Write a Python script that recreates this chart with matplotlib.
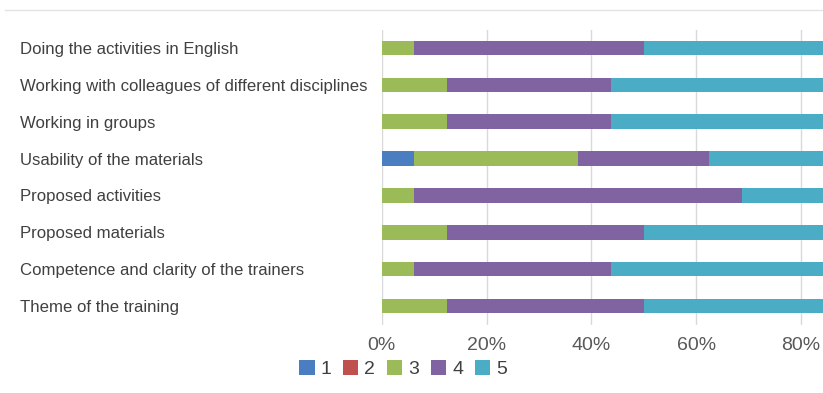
import matplotlib
matplotlib.use("Agg")
import matplotlib.pyplot as plt
from matplotlib.lines import Line2D
from matplotlib.patches import Patch

plt.rcParams["font.family"] = ["Liberation Sans", "DejaVu Sans"]

categories = [
    "Doing the activities in English",
    "Working with colleagues of different disciplines",
    "Working in groups",
    "Usability of the materials",
    "Proposed activities",
    "Proposed materials",
    "Competence and clarity of the trainers",
    "Theme of the training",
]
series_names = ["1", "2", "3", "4", "5"]
s1 = [0, 0, 0, 6.25, 0, 0, 0, 0]
s2 = [0, 0, 0, 0, 0, 0, 0, 0]
s3 = [6.25, 12.5, 12.5, 31.25, 6.25, 12.5, 6.25, 12.5]
s4 = [43.75, 31.25, 31.25, 25.0, 62.5, 37.5, 37.5, 37.5]
s5 = [50.0, 56.25, 56.25, 37.5, 31.25, 50.0, 56.25, 50.0]
tick_vals = [0, 20, 40, 60, 80, 100]
tick_labels = ["0%", "20%", "40%", "60%", "80%", "100%"]

colors = ["#4A7EC0", "#C0504D", "#9BBB59", "#8064A2", "#4BACC6"]

W, H = 823, 393
fig = plt.figure(figsize=(W / 100, H / 100), dpi=100)
fig.patch.set_facecolor("white")

left_px, right_px = 381.7, 381.7 + 524.0
top_px, bot_px = 29.5, 324.5
ax = fig.add_axes([left_px / W, 1 - bot_px / H, (right_px - left_px) / W, (bot_px - top_px) / H])

y = list(range(len(categories)))
left = [0] * len(categories)
for vals, c, name in zip([s1, s2, s3, s4, s5], colors, series_names):
    ax.barh(y, vals, left=left, color=c, height=0.39, label=name, zorder=3)
    left = [a + b for a, b in zip(left, vals)]

ax.set_xlim(0, 100)
ax.set_ylim(len(categories) - 0.5, -0.5)
ax.set_xticks(tick_vals)
ax.set_xticklabels(tick_labels, fontsize=14, color="#595959")
ax.set_yticks(y)
ax.set_yticklabels(categories, fontsize=12.1, color="#404040")
for lbl in ax.get_yticklabels():
    lbl.set_horizontalalignment("left")
ax.tick_params(axis="y", length=0, pad=(left_px - 20) * 0.72)
ax.tick_params(axis="x", length=0, pad=9)
ax.grid(axis="x", color="#D9D9D9", linewidth=1, zorder=0)
for s in ax.spines.values():
    s.set_visible(False)

handles = [Patch(facecolor=c, edgecolor="none") for c in colors]
fig.legend(handles, series_names, loc="center left", bbox_to_anchor=(299 / W, 1 - 369 / H),
           ncol=5, frameon=False, fontsize=14, handlelength=0.8, handleheight=0.8,
           handletextpad=0.3, columnspacing=0.6, labelcolor="#404040", borderaxespad=0,
           borderpad=0)

fig.add_artist(Line2D([5 / W, 1.0], [1 - 10 / H, 1 - 10 / H], transform=fig.transFigure,
                      color="#E3E3E3", linewidth=1))

fig.savefig("out.png", dpi=100, facecolor="white")
